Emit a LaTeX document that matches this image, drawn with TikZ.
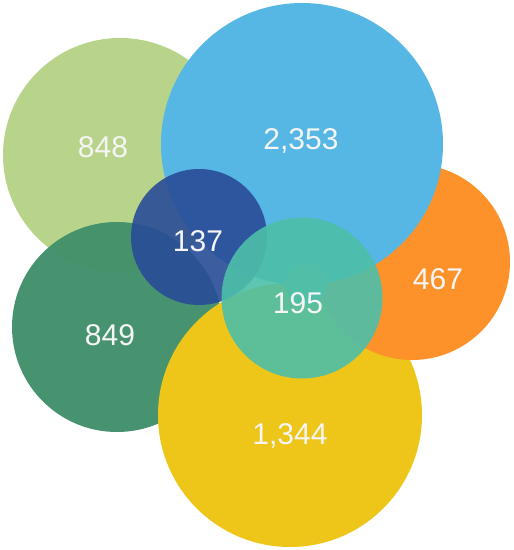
\documentclass[tikz,border=0pt]{standalone}
\usepackage{fontspec}
\setmainfont{Liberation Sans}
\definecolor{leafgreen}{HTML}{B8D48A}
\definecolor{forestgreen}{HTML}{42906B}
\definecolor{skyblue}{HTML}{56B6E4}
\definecolor{navyblue}{HTML}{294C97}
\definecolor{amber}{HTML}{EEC61A}
\definecolor{tangerine}{HTML}{FD922A}
\definecolor{seafoam}{HTML}{4DBFA9}
\tikzset{
  font=\fontsize{30}{36}\selectfont,
  bubble/.style           = {circle, draw=none, inner sep=0pt},
  seethru/.style          = {fill opacity=0.9},
  count/.style            = {text=white!96!black, anchor=base, inner sep=0pt}
}

\begin{document}
\begin{tikzpicture}[x=1pt, y=-1pt]
  \fill[white] (0,0) rectangle (514,550);
  \useasboundingbox (0,0) rectangle (514,550);
  % sets, back to front
  \node[bubble, fill=leafgreen,   minimum size=234pt] (leaf)   at (120,155) {};
  \node[bubble, fill=forestgreen, minimum size=210pt, fill opacity=0.97] (forest) at (117,327) {};
  \node[bubble, fill=amber,       minimum size=264pt] (amber)  at (290,415) {};
  \node[bubble, fill=tangerine,   minimum size=196pt] (tang)   at (412,262) {};
  \node[bubble, fill=skyblue,     minimum size=282pt] (sky)    at (302,144) {};
  \node[bubble, fill=navyblue,    minimum size=136pt, seethru] (navy)   at (199,237) {};
  \node[bubble, fill=leafgreen!45!seafoam, minimum size=42pt] (tiny) at (306,284) {};
  \node[bubble, fill=seafoam,     minimum size=161pt, seethru] (sea)    at (302,298) {};
  % counts
  \node[count] (n848)  at (103,157) {848};
  \node[count] (n2353) at (301,149) {2,353};
  \node[count] (n467)  at (438,289) {467};
  \node[count] (n137)  at (198,251) {137};
  \node[count] (n849)  at (110,345) {849};
  \node[count] (n195)  at (298,313) {195};
  \node[count] (n1344) at (290,444) {1,344};
\end{tikzpicture}
\end{document}
